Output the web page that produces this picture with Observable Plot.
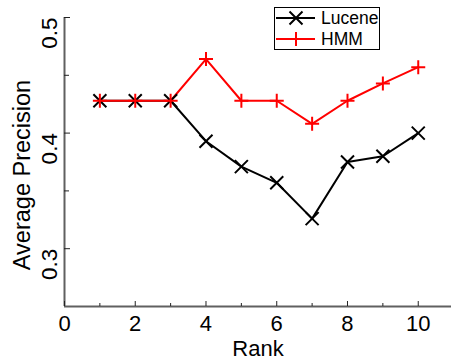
<!DOCTYPE html>
<html>
<head>
<meta charset="utf-8">
<script src="https://cdn.jsdelivr.net/npm/d3@7"></script>
<script src="https://cdn.jsdelivr.net/npm/@observablehq/plot@0.6"></script>
<style>
  html, body { margin: 0; padding: 0; background: #fff; }
  #wrap { position: relative; width: 451px; height: 359px; font-family: "Liberation Sans", Arial, sans-serif; }
  #legend { position: absolute; left: 274px; top: 7px; }
  #legend text { font-family: "Liberation Sans", Arial, sans-serif; font-size: 17.5px; }
</style>
</head>
<body>
<div id="wrap"></div>
<script>
const ranks = [1, 2, 3, 4, 5, 6, 7, 8, 9, 10];
const lucene = [0.428, 0.428, 0.428, 0.393, 0.371, 0.357, 0.326, 0.375, 0.380, 0.400];
const hmm = [0.428, 0.428, 0.428, 0.464, 0.428, 0.428, 0.408, 0.428, 0.443, 0.457];
const xTicks = [0, 2, 4, 6, 8, 10];
const xMinor = [1, 3, 5, 7, 9];
const yTicks = [0.3, 0.4, 0.5];
const yMinor = [0.35, 0.45];
const seriesNames = ["Lucene", "HMM"];
const colors = ["#000000", "#ff0000"];

const data = [];
ranks.forEach((r, i) => {
  data.push({rank: r, value: lucene[i], series: seriesNames[0]});
  data.push({rank: r, value: hmm[i], series: seriesNames[1]});
});

// symbols whose half-width equals the dot radius r
const timesSym = {draw(ctx, size) { const h = Math.sqrt(size / Math.PI); ctx.moveTo(-h, -h); ctx.lineTo(h, h); ctx.moveTo(h, -h); ctx.lineTo(-h, h); }};
const plusSym = {draw(ctx, size) { const h = Math.sqrt(size / Math.PI); ctx.moveTo(-h, 0); ctx.lineTo(h, 0); ctx.moveTo(0, -h); ctx.lineTo(0, h); }};

const FONT = "Liberation Sans, Arial, sans-serif";

const chart = Plot.plot({
  width: 451,
  height: 359,
  marginLeft: 64,
  marginRight: 0,
  marginTop: 17,
  marginBottom: 53,
  style: {fontFamily: FONT, background: "white"},
  x: {domain: [0, 10.94], axis: null},
  y: {domain: [0.25, 0.5], axis: null},
  marks: [
    // axis lines
    Plot.ruleX([0], {stroke: "#606060", strokeWidth: 2}),
    Plot.ruleY([0.25], {stroke: "#606060", strokeWidth: 2}),
    // ticks (inward)
    Plot.axisX({ticks: xTicks, tickSize: 5, dy: -5, tickFormat: () => "", label: null, stroke: "#222"}),
    Plot.axisX({ticks: xMinor, tickSize: 3, dy: -3, tickFormat: () => "", label: null, stroke: "#222"}),
    Plot.axisY({ticks: yTicks, tickSize: 6, dx: 6, tickFormat: () => "", label: null, stroke: "#222"}),
    Plot.axisY({ticks: yMinor, tickSize: 5, dx: 5, tickFormat: () => "", label: null, stroke: "#222"}),
    // tick labels
    Plot.axisX({ticks: xTicks, tickSize: 0, tickPadding: 9, fontSize: 22, tickFormat: d => String(d), label: null, fill: "#000"}),
    Plot.text(yTicks, {y: d => d, frameAnchor: "left", dx: -8, rotate: -90, textAnchor: "end", lineAnchor: "bottom", fontSize: 22.5, text: d => d.toFixed(1), fill: "#000"}),
    // axis titles
    Plot.text(["Average Precision"], {frameAnchor: "left", dx: -35, dy: 13, rotate: -90, textAnchor: "middle", lineAnchor: "bottom", fontSize: 23.5, text: d => d, fill: "#000"}),
    Plot.text(["Rank"], {frameAnchor: "bottom", dy: 49, textAnchor: "middle", lineAnchor: "bottom", fontSize: 22, text: d => d, fill: "#000"}),
    // lines
    Plot.line(data.filter(d => d.series === "Lucene"), {x: "rank", y: "value", stroke: colors[0], strokeWidth: 2}),
    Plot.line(data.filter(d => d.series === "HMM"), {x: "rank", y: "value", stroke: colors[1], strokeWidth: 2}),
    Plot.dot(data.filter(d => d.series === "Lucene"), {x: "rank", y: "value", symbol: timesSym, r: 6.5, stroke: colors[0], strokeWidth: 2, fill: "none"}),
    Plot.dot(data.filter(d => d.series === "HMM"), {x: "rank", y: "value", symbol: plusSym, r: 7, stroke: colors[1], strokeWidth: 2, fill: "none"})
  ]
});

const wrap = document.getElementById("wrap");
wrap.appendChild(chart);

// legend
const ns = "http://www.w3.org/2000/svg";
const lg = document.createElementNS(ns, "svg");
lg.setAttribute("id", "legend");
lg.setAttribute("width", 106);
lg.setAttribute("height", 43);
function el(tag, attrs, parent) { const e = document.createElementNS(ns, tag); for (const k in attrs) e.setAttribute(k, attrs[k]); (parent || lg).appendChild(e); return e; }
el("rect", {x: 0.5, y: 0.5, width: 105, height: 42, fill: "white", stroke: "#000", "stroke-width": 1});
const rowsY = [11, 32];
seriesNames.forEach((name, i) => {
  const y = rowsY[i];
  el("line", {x1: 2, x2: 41, y1: y, y2: y, stroke: colors[i], "stroke-width": 2});
  if (i === 0) {
    el("path", {d: `M${22-6.5},${y-6.5}L${22+6.5},${y+6.5}M${22+6.5},${y-6.5}L${22-6.5},${y+6.5}`, stroke: colors[i], "stroke-width": 2, fill: "none"});
  } else {
    el("path", {d: `M${22-7},${y}L${22+7},${y}M22,${y-7}L22,${y+7}`, stroke: colors[i], "stroke-width": 2, fill: "none"});
  }
  const t = el("text", {x: 47, y: y + 6, fill: "#000"});
  t.textContent = name;
});
wrap.appendChild(lg);
</script>
</body>
</html>
